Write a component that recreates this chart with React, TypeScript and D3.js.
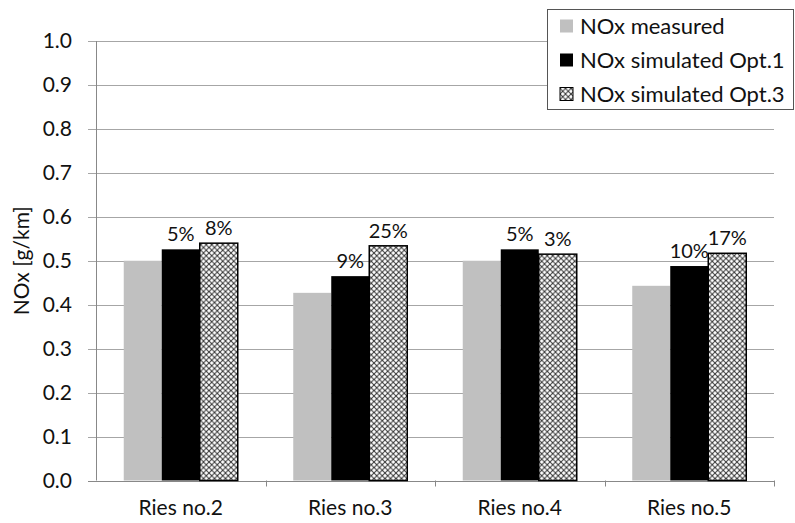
import React from "react";
import * as d3 from "d3";

const categories = ["Ries no.2", "Ries no.3", "Ries no.4", "Ries no.5"];
const seriesNames = ["NOx measured", "NOx simulated Opt.1", "NOx simulated Opt.3"];
const measured = [0.500, 0.427, 0.500, 0.443];
const opt1 = [0.526, 0.465, 0.526, 0.488];
const opt3 = [0.540, 0.534, 0.515, 0.517];
const opt1Labels = ["5%", "9%", "5%", "10%"];
const opt3Labels = ["8%", "25%", "3%", "17%"];
const yTicks = [0, 0.1, 0.2, 0.3, 0.4, 0.5, 0.6, 0.7, 0.8, 0.9, 1.0];

const W = 795, H = 523;
const margin = { left: 96, right: 21, top: 41, bottom: 42.5 };
const FONT = "Lato, 'Open Sans', sans-serif";

export default function App() {
  const x = d3.scaleBand<string>().domain(categories).range([margin.left, W - margin.right]).paddingInner(0).paddingOuter(0);
  const y = d3.scaleLinear().domain([0, 1]).range([H - margin.bottom, margin.top]);
  const inner = d3.scaleBand<number>().domain([0, 1, 2]).range([0, x.bandwidth()]).paddingOuter(0.73).paddingInner(0);
  const series = [measured, opt1, opt3];
  const fills = ["#c0c0c0", "#000000", "url(#hatch)"];
  const x0 = margin.left, x1 = W - margin.right, yb = y(0);
  const legX = 547, legY = 9, legW = 246, legH = 100;
  const P = 5.5;
  return (
    <svg width={W} height={H} style={{ position: "absolute", left: 0, top: 0, background: "#fff" }} fontFamily={FONT}>
      <defs>
        <pattern id="hatch" patternUnits="userSpaceOnUse" width={P} height={P}>
          <rect width={P} height={P} fill="#fff" />
          <path d={`M0,0 L${P},${P} M${P},0 L0,${P}`} stroke="#333" strokeWidth={1} />
        </pattern>
      </defs>
      {yTicks.map((t) => (
        <g key={t}>
          <line x1={x0 - 8} x2={t >= 0.85 ? legX : x1} y1={Math.round(y(t)) + 0.5} y2={Math.round(y(t)) + 0.5} stroke={t === 0 ? "#888" : "#a6a6a6"} strokeWidth={1} />
          <text x={72} y={y(t)} dy="0.35em" textAnchor="end" fontSize={21} fill="#111">{t.toFixed(1)}</text>
        </g>
      ))}
      <line x1={x0 + 0.5} x2={x0 + 0.5} y1={y(1)} y2={yb} stroke="#888" />
      {categories.map((c, i) => (
        <line key={"t" + i} x1={Math.round((x(c) as number) + x.bandwidth()) + 0.5} x2={Math.round((x(c) as number) + x.bandwidth()) + 0.5} y1={yb} y2={yb + 6} stroke="#888" />
      ))}
      {categories.map((c, i) => (
        <g key={c}>
          {series.map((s, j) => {
            const bx = (x(c) as number) + (inner(j) as number);
            return (
              <rect key={j} x={bx} y={y(s[i])} width={inner.bandwidth()} height={yb - y(s[i])} fill={fills[j]}
                stroke={j === 2 ? "#000" : "none"} strokeWidth={j === 2 ? 1.5 : 0} />
            );
          })}
          <text x={(x(c) as number) + (inner(1) as number) + inner.bandwidth() / 2} y={y(opt1[i]) - 8} textAnchor="middle" fontSize={20} fill="#111">{opt1Labels[i]}</text>
          <text x={(x(c) as number) + (inner(2) as number) + inner.bandwidth() / 2} y={y(opt3[i]) - 8} textAnchor="middle" fontSize={20} fill="#111">{opt3Labels[i]}</text>
          <text x={(x(c) as number) + x.bandwidth() / 2} y={515} textAnchor="middle" fontSize={21} fill="#111">{c}</text>
        </g>
      ))}
      <text transform={`translate(22,${(y(0) + y(1)) / 2}) rotate(-90)`} dy="0.35em" textAnchor="middle" fontSize={21} fill="#111">NOx [g/km]</text>
      <rect x={legX + 0.5} y={legY + 0.5} width={legW} height={legH} fill="#fff" stroke="#555" />
      {seriesNames.map((n, j) => (
        <g key={n} transform={`translate(${legX + 13},${legY + 17 + j * 34})`}>
          <rect x={0} y={-6.5} width={13} height={13} fill={fills[j]} stroke={j === 2 ? "#000" : "none"} strokeWidth={1} />
          <text x={20} y={0} dy="0.35em" fontSize={22} fill="#111">{n}</text>
        </g>
      ))}
    </svg>
  );
}
